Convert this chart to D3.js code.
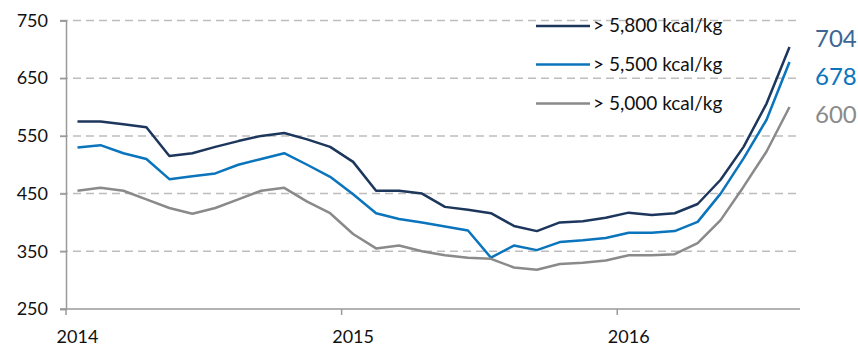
<!DOCTYPE html>
<html>
<head>
<meta charset="utf-8">
<script src="https://cdn.jsdelivr.net/npm/d3@7"></script>
<style>
  html, body { margin: 0; padding: 0; background: #fff; }
  svg { display: block; }
  text { font-family: Lato, "Open Sans", sans-serif; }
</style>
</head>
<body>
<svg id="chart" width="858" height="348"></svg>
<script>
// Monthly coal price by calorific grade, Jan 2014 – Aug 2016
const months = [
  "2014-01","2014-02","2014-03","2014-04","2014-05","2014-06","2014-07","2014-08","2014-09","2014-10","2014-11","2014-12",
  "2015-01","2015-02","2015-03","2015-04","2015-05","2015-06","2015-07","2015-08","2015-09","2015-10","2015-11","2015-12",
  "2016-01","2016-02","2016-03","2016-04","2016-05","2016-06","2016-07","2016-08"
];
const seriesNames = ["> 5,800 kcal/kg", "> 5,500 kcal/kg", "> 5,000 kcal/kg"];
const grade5800 = [575,575,570,565,515,520,531,541,550,555,544,531,
                   505,455,455,450,427,422,416,394,385,400,402,408,
                   417,413,416,432,474,531,606,704];
const grade5500 = [530,534,520,510,475,480,485,500,510,520,500,479,
                   449,416,406,400,393,386,339,360,352,366,369,373,
                   382,382,385,401,450,511,578,678];
const grade5000 = [455,460,455,440,425,415,425,440,455,460,436,416,
                   380,355,360,350,343,339,337,322,318,328,330,334,
                   343,343,345,364,404,462,523,600];
const yTicks = [250, 350, 450, 550, 650, 750];
const yearLabels = [{ month: "2014-01", label: "2014" },
                    { month: "2015-01", label: "2015" },
                    { month: "2016-01", label: "2016" }];

const lineColors = ["#1c365c", "#0a74bc", "#8a8a8a"];
const endColors  = ["#3d6695", "#0a74bc", "#8a8a8a"];
const series = [grade5800, grade5500, grade5000];

const svg = d3.select("#chart");

const x = d3.scaleBand().domain(months).range([66, 801]).paddingInner(0).paddingOuter(0);
const cx = m => x(m) + x.bandwidth() / 2;
const y = d3.scaleLinear().domain([250, 750]).range([309, 20.5]);

// dashed horizontal gridlines
svg.append("g")
  .selectAll("line")
  .data(yTicks.filter(t => t !== 250))
  .join("line")
  .attr("x1", 60).attr("x2", 800)
  .attr("y1", d => y(d)).attr("y2", d => y(d))
  .attr("stroke", "#bdbdbd")
  .attr("stroke-width", 1.5)
  .attr("stroke-dasharray", "8,5");

// y axis
const yAxis = svg.append("g")
  .attr("transform", "translate(66,0)")
  .call(d3.axisLeft(y).tickValues(yTicks).tickSize(6).tickPadding(12).tickFormat(d3.format("d")));
yAxis.select(".domain").attr("stroke", "#9a9a9a").attr("stroke-width", 1.5);
yAxis.selectAll(".tick line").attr("stroke", "#9a9a9a").attr("stroke-width", 1.5);
yAxis.selectAll(".tick text")
  .attr("font-size", 18).attr("fill", "#111")
  .style("font-family", "Lato, sans-serif");

// x axis: ticks at year boundaries, labels centred on January
const yearStarts = yearLabels.map(d => x(d.month));
const xg = svg.append("g");
xg.append("line")
  .attr("x1", 60).attr("x2", 800)
  .attr("y1", y(250)).attr("y2", y(250))
  .attr("stroke", "#9a9a9a").attr("stroke-width", 1.5);
xg.selectAll("line.tick")
  .data(yearStarts)
  .join("line")
  .attr("class", "tick")
  .attr("x1", d => d).attr("x2", d => d)
  .attr("y1", y(250)).attr("y2", y(250) + 6)
  .attr("stroke", "#9a9a9a").attr("stroke-width", 1.5);
xg.selectAll("text")
  .data(yearLabels)
  .join("text")
  .attr("x", d => cx(d.month))
  .attr("y", 343)
  .attr("text-anchor", "middle")
  .attr("font-size", 18)
  .attr("fill", "#111")
  .text(d => d.label);

// series lines
const line = d3.line()
  .x((d, i) => cx(months[i]))
  .y(d => y(d));

svg.append("g")
  .selectAll("path")
  .data(series)
  .join("path")
  .attr("d", d => line(d))
  .attr("fill", "none")
  .attr("stroke", (d, i) => lineColors[i])
  .attr("stroke-width", 2.5)
  .attr("stroke-linejoin", "round");

// legend
const legend = svg.append("g");
const legendY = [26, 64.5, 103.5];
seriesNames.forEach((name, i) => {
  legend.append("line")
    .attr("x1", 536).attr("x2", 590)
    .attr("y1", legendY[i]).attr("y2", legendY[i])
    .attr("stroke", lineColors[i]).attr("stroke-width", 2.5);
  legend.append("text")
    .attr("x", 593).attr("y", legendY[i] + 6)
    .attr("font-size", 19)
    .attr("fill", "#111")
    .text(name);
});

// latest values at right
const endY = [46.5, 85, 122.5];
series.forEach((s, i) => {
  svg.append("text")
    .attr("x", 815).attr("y", endY[i])
    .attr("font-size", 24)
    .attr("fill", endColors[i])
    .text(s[s.length - 1]);
});
</script>
</body>
</html>
